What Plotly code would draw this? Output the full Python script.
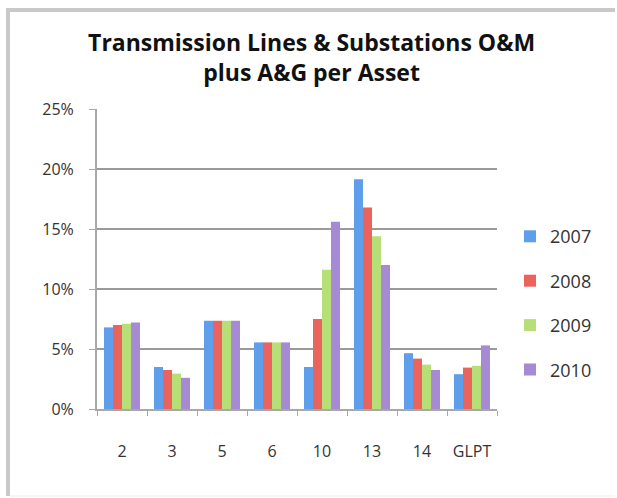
import plotly.graph_objects as go

# Asset categories and yearly O&M + A&G share per asset (%)
categories = ["2", "3", "5", "6", "10", "13", "14", "GLPT"]
years = ["2007", "2008", "2009", "2010"]
values_2007 = [6.8, 3.5, 7.35, 5.55, 3.5, 19.15, 4.65, 2.9]
values_2008 = [7.0, 3.25, 7.35, 5.55, 7.5, 16.8, 4.2, 3.45]
values_2009 = [7.1, 2.95, 7.35, 5.55, 11.6, 14.4, 3.7, 3.6]
values_2010 = [7.2, 2.6, 7.35, 5.55, 15.6, 12.0, 3.25, 5.3]
series = [values_2007, values_2008, values_2009, values_2010]
colors = ["#5E9EEA", "#EA635D", "#B6E077", "#A68BD4"]
y_ticks = [0, 5, 10, 15, 20, 25]

fig = go.Figure()
for yr, vals, col in zip(years, series, colors):
    fig.add_trace(go.Bar(
        x=categories, y=vals, name=yr,
        marker=dict(color=col, line=dict(width=0)),
        legendgroup=yr,
    ))

# Chart frame: left and top gray edges, faint bottom edge
fig.add_shape(type="path", xref="paper", yref="paper",
              path="M -0.2225,-0.29 L -0.2225,1.33 L 1.295,1.33",
              line=dict(color="#C9C9C9", width=4))
fig.add_shape(type="line", xref="paper", yref="paper",
              x0=-0.2175, x1=1.295, y0=-0.2900, y1=-0.2900,
              line=dict(color="#EDEDED", width=1))

fig.update_layout(
    width=617, height=498,
    margin=dict(l=97, r=120, t=109, b=89),
    paper_bgcolor="white", plot_bgcolor="white",
    barmode="group", bargap=0.28, bargroupgap=0,
    font=dict(family="Open Sans, Liberation Sans, sans-serif", size=16, color="#333333"),
    title=dict(
        text="<b>Transmission Lines & Substations O&M<br>plus A&G per Asset</b>",
        x=0.505, xanchor="center", y=0.898, yanchor="middle",
        font=dict(family="Open Sans, sans-serif", size=23, color="#111111"),
    ),
    legend=dict(
        x=1.0325, xanchor="left", y=0.353, yanchor="middle",
        font=dict(size=18, color="#333333"),
        tracegroupgap=18, itemwidth=30,
        bgcolor="rgba(0,0,0,0)",
    ),
    showlegend=True,
)
fig.update_xaxes(
    type="category", showline=True, linecolor="#A8A8A8", linewidth=2,
    ticks="outside", tickson="boundaries", ticklen=5, tickcolor="#A8A8A8",
    ticklabelstandoff=27, showgrid=False, tickfont=dict(size=16), tickangle=0,
)
fig.update_yaxes(
    range=[0, 25], tickvals=y_ticks, ticktext=[f"{t}%" for t in y_ticks],
    showline=True, linecolor="#A8A8A8", linewidth=2,
    ticks="outside", ticklen=6, tickcolor="#A8A8A8",
    showgrid=True, gridcolor="#9A9A9A", gridwidth=1.5,
    ticklabelstandoff=12, zeroline=False, tickfont=dict(size=16),
)

fig.write_html("out.html")
